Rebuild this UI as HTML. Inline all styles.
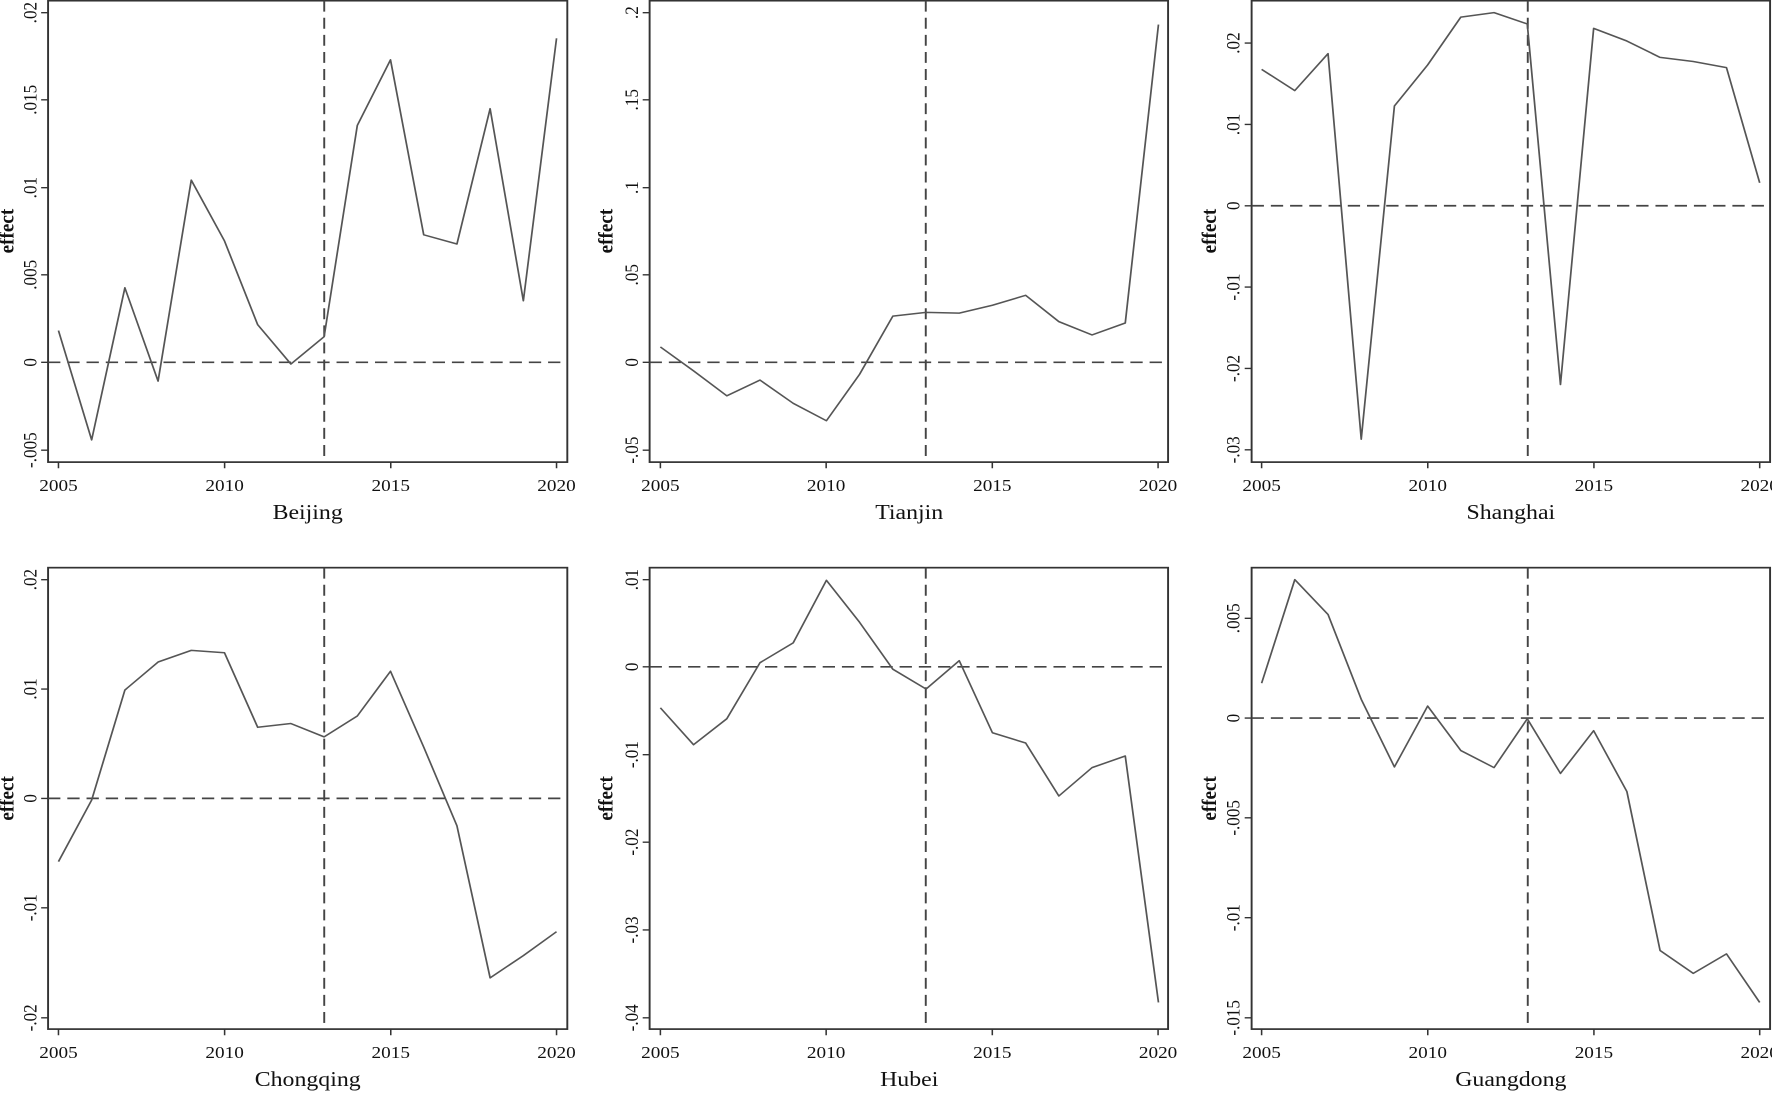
<!DOCTYPE html>
<html><head><meta charset="utf-8"><style>
html,body{margin:0;padding:0;background:#fff;overflow:hidden;}
svg{display:block;}
text{font-family:"Liberation Serif",serif;fill:#111;}
.tk{font-size:50px;}
.xt{font-size:50px;text-anchor:middle;}
.ti{font-size:62px;text-anchor:middle;}
.ef{font-size:56px;font-weight:bold;text-anchor:middle;}
.box{fill:none;stroke:#333;stroke-width:5;}
.ln{fill:none;stroke:#555;stroke-width:4.5;stroke-linejoin:round;}
.ds{stroke:#444;stroke-width:5;stroke-dasharray:32 18;fill:none;}
.tic{stroke:#333;stroke-width:4;}
</style></head><body>
<svg width="1772" height="1094" viewBox="0 0 1772 1094" xmlns="http://www.w3.org/2000/svg">
<rect width="1772" height="1094" fill="#fff"/>

<!-- Beijing -->
<g transform="translate(0,0) scale(0.384615,0.3418)">
<g transform="translate(0,0)">
<rect class="box" x="125" y="2" width="1350" height="1350"/>
<path class="tic" d="M107 37H125M107 292H125M107 549H125M107 804H125M107 1060H125M107 1317H125M152 1352V1370M584 1352V1370M1016 1352V1370M1447 1352V1370"/>
<text class="tk" transform="translate(95,37) rotate(-90)" text-anchor="middle">.02</text>
<text class="tk" transform="translate(95,292) rotate(-90)" text-anchor="middle">.015</text>
<text class="tk" transform="translate(95,549) rotate(-90)" text-anchor="middle">.01</text>
<text class="tk" transform="translate(95,804) rotate(-90)" text-anchor="middle">.005</text>
<text class="tk" transform="translate(95,1060) rotate(-90)" text-anchor="middle">0</text>
<text class="tk" transform="translate(95,1317) rotate(-90)" text-anchor="middle">-.005</text>
<text class="ef" transform="translate(35,676) rotate(-90)">effect</text>
<text class="xt" x="152" y="1437">2005</text><text class="xt" x="584" y="1437">2010</text><text class="xt" x="1016" y="1437">2015</text><text class="xt" x="1447" y="1437">2020</text>
<text class="ti" x="800" y="1518">Beijing</text>
<line class="ds" x1="125" y1="1060" x2="1475" y2="1060"/>
<line class="ds" x1="843" y1="2" x2="843" y2="1352"/>
<polyline class="ln" points="152,967 238.3,1287 324.7,842 411,1115 497.3,527 583.7,705 670,950 756.3,1065 842.7,985 929,367 1015.3,175 1101.7,687 1188,714 1274.3,318 1360.7,880 1447,112"/>
</g></g>

<!-- Tianjin -->
<g transform="translate(590,0) scale(0.384615,0.3418)">
<g transform="translate(30,0)">
<rect class="box" x="125" y="2" width="1348" height="1350"/>
<path class="tic" d="M107 37H125M107 292H125M107 549H125M107 804H125M107 1060H125M107 1317H125M153 1352V1370M584 1352V1370M1016 1352V1370M1447 1352V1370"/>
<text class="tk" transform="translate(95,37) rotate(-90)" text-anchor="middle">.2</text>
<text class="tk" transform="translate(95,292) rotate(-90)" text-anchor="middle">.15</text>
<text class="tk" transform="translate(95,549) rotate(-90)" text-anchor="middle">.1</text>
<text class="tk" transform="translate(95,804) rotate(-90)" text-anchor="middle">.05</text>
<text class="tk" transform="translate(95,1060) rotate(-90)" text-anchor="middle">0</text>
<text class="tk" transform="translate(95,1317) rotate(-90)" text-anchor="middle">-.05</text>
<text class="ef" transform="translate(28,676) rotate(-90)">effect</text>
<text class="xt" x="153" y="1437">2005</text><text class="xt" x="584" y="1437">2010</text><text class="xt" x="1016" y="1437">2015</text><text class="xt" x="1447" y="1437">2020</text>
<text class="ti" x="800" y="1518">Tianjin</text>
<line class="ds" x1="125" y1="1060" x2="1473" y2="1060"/>
<line class="ds" x1="843" y1="2" x2="843" y2="1352"/>
<polyline class="ln" points="153,1015 239.3,1085 325.7,1158 412,1112 498.3,1180 584.7,1231 671,1095 757.3,925 843.7,914 930,916 1016.3,893 1102.7,864 1189,941 1275.3,980 1361.7,945 1448,72"/>
</g></g>

<!-- Shanghai -->
<g transform="translate(1172,0) scale(0.384615,0.3418)">
<g transform="translate(81,0)">
<rect class="box" x="126" y="2" width="1348" height="1350"/>
<path class="tic" d="M108 126H126M108 364H126M108 602H126M108 840H126M108 1078H126M108 1316H126M152 1352V1370M584 1352V1370M1016 1352V1370M1447 1352V1370"/>
<text class="tk" transform="translate(95,126) rotate(-90)" text-anchor="middle">.02</text>
<text class="tk" transform="translate(95,364) rotate(-90)" text-anchor="middle">.01</text>
<text class="tk" transform="translate(95,602) rotate(-90)" text-anchor="middle">0</text>
<text class="tk" transform="translate(95,840) rotate(-90)" text-anchor="middle">-.01</text>
<text class="tk" transform="translate(95,1078) rotate(-90)" text-anchor="middle">-.02</text>
<text class="tk" transform="translate(95,1316) rotate(-90)" text-anchor="middle">-.03</text>
<text class="ef" transform="translate(33,676) rotate(-90)">effect</text>
<text class="xt" x="152" y="1437">2005</text><text class="xt" x="584" y="1437">2010</text><text class="xt" x="1016" y="1437">2015</text><text class="xt" x="1447" y="1437">2020</text>
<text class="ti" x="800" y="1518">Shanghai</text>
<line class="ds" x1="126" y1="602" x2="1474" y2="602"/>
<line class="ds" x1="844" y1="2" x2="844" y2="1352"/>
<polyline class="ln" points="152,203 238.3,265 324.7,157 411,1285 497.3,310 583.7,190 670,50 756.3,37 842.7,70 929,1125 1015.3,83 1101.7,120 1188,168 1274.3,180 1360.7,198 1447,535"/>
</g></g>

<!-- Chongqing -->
<g transform="translate(0,554) scale(0.384615,0.3418)">
<g transform="translate(0,0)">
<rect class="box" x="125" y="40" width="1350" height="1350"/>
<path class="tic" d="M107 75H125M107 395H125M107 715H125M107 1035H125M107 1357H125M152 1390V1408M584 1390V1408M1016 1390V1408M1447 1390V1408"/>
<text class="tk" transform="translate(95,75) rotate(-90)" text-anchor="middle">.02</text>
<text class="tk" transform="translate(95,395) rotate(-90)" text-anchor="middle">.01</text>
<text class="tk" transform="translate(95,715) rotate(-90)" text-anchor="middle">0</text>
<text class="tk" transform="translate(95,1035) rotate(-90)" text-anchor="middle">-.01</text>
<text class="tk" transform="translate(95,1357) rotate(-90)" text-anchor="middle">-.02</text>
<text class="ef" transform="translate(35,715) rotate(-90)">effect</text>
<text class="xt" x="152" y="1475">2005</text><text class="xt" x="584" y="1475">2010</text><text class="xt" x="1016" y="1475">2015</text><text class="xt" x="1447" y="1475">2020</text>
<text class="ti" x="800" y="1556">Chongqing</text>
<line class="ds" x1="125" y1="715" x2="1475" y2="715"/>
<line class="ds" x1="843" y1="40" x2="843" y2="1390"/>
<polyline class="ln" points="152,900 238.3,720 324.7,398 411,316 497.3,282 583.7,289 670,507 756.3,496 842.7,535 929,474 1015.3,343 1101.7,565 1188,795 1274.3,1240 1360.7,1175 1447,1105"/>
</g></g>

<!-- Hubei -->
<g transform="translate(590,554) scale(0.384615,0.3418)">
<g transform="translate(30,0)">
<rect class="box" x="125" y="40" width="1348" height="1350"/>
<path class="tic" d="M107 75H125M107 330H125M107 587H125M107 843H125M107 1100H125M107 1357H125M153 1390V1408M584 1390V1408M1016 1390V1408M1447 1390V1408"/>
<text class="tk" transform="translate(95,75) rotate(-90)" text-anchor="middle">.01</text>
<text class="tk" transform="translate(95,330) rotate(-90)" text-anchor="middle">0</text>
<text class="tk" transform="translate(95,587) rotate(-90)" text-anchor="middle">-.01</text>
<text class="tk" transform="translate(95,843) rotate(-90)" text-anchor="middle">-.02</text>
<text class="tk" transform="translate(95,1100) rotate(-90)" text-anchor="middle">-.03</text>
<text class="tk" transform="translate(95,1357) rotate(-90)" text-anchor="middle">-.04</text>
<text class="ef" transform="translate(28,715) rotate(-90)">effect</text>
<text class="xt" x="153" y="1475">2005</text><text class="xt" x="584" y="1475">2010</text><text class="xt" x="1016" y="1475">2015</text><text class="xt" x="1447" y="1475">2020</text>
<text class="ti" x="800" y="1556">Hubei</text>
<line class="ds" x1="125" y1="330" x2="1473" y2="330"/>
<line class="ds" x1="843" y1="40" x2="843" y2="1390"/>
<polyline class="ln" points="153,450 239.3,558 325.7,482 412,318 498.3,260 584.7,77 671,200 757.3,337 843.7,395 930,312 1016.3,523 1102.7,553 1189,708 1275.3,625 1361.7,591 1448,1312"/>
</g></g>

<!-- Guangdong -->
<g transform="translate(1172,554) scale(0.384615,0.3418)">
<g transform="translate(81,0)">
<rect class="box" x="126" y="40" width="1348" height="1350"/>
<path class="tic" d="M108 188H126M108 480H126M108 772H126M108 1064H126M108 1357H126M152 1390V1408M584 1390V1408M1016 1390V1408M1447 1390V1408"/>
<text class="tk" transform="translate(95,188) rotate(-90)" text-anchor="middle">.005</text>
<text class="tk" transform="translate(95,480) rotate(-90)" text-anchor="middle">0</text>
<text class="tk" transform="translate(95,772) rotate(-90)" text-anchor="middle">-.005</text>
<text class="tk" transform="translate(95,1064) rotate(-90)" text-anchor="middle">-.01</text>
<text class="tk" transform="translate(95,1357) rotate(-90)" text-anchor="middle">-.015</text>
<text class="ef" transform="translate(33,715) rotate(-90)">effect</text>
<text class="xt" x="152" y="1475">2005</text><text class="xt" x="584" y="1475">2010</text><text class="xt" x="1016" y="1475">2015</text><text class="xt" x="1447" y="1475">2020</text>
<text class="ti" x="800" y="1556">Guangdong</text>
<line class="ds" x1="126" y1="480" x2="1474" y2="480"/>
<line class="ds" x1="844" y1="40" x2="844" y2="1390"/>
<polyline class="ln" points="152,378 238.3,75 324.7,177 411,425 497.3,623 583.7,445 670,575 756.3,625 842.7,482 929,642 1015.3,517 1101.7,695 1188,1160 1274.3,1227 1360.7,1170 1447,1312"/>
</g></g>
</svg>
</body></html>
